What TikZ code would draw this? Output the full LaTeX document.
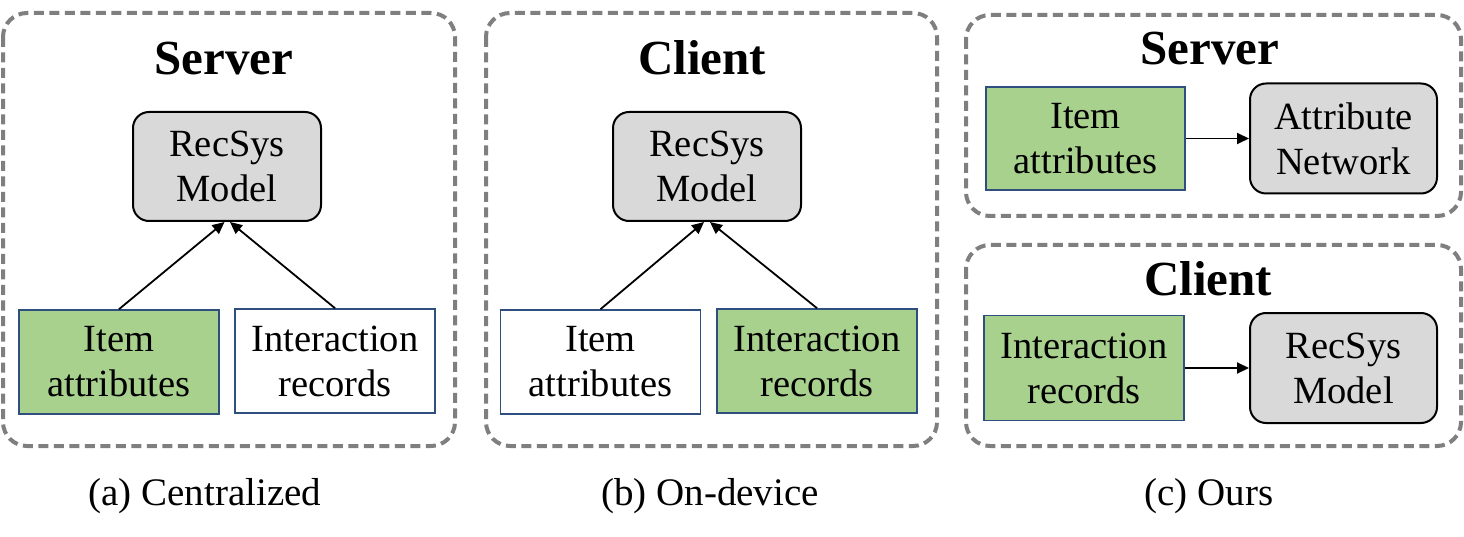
\documentclass[tikz,border=0pt]{standalone}
\usepackage{fontspec}
\setmainfont{Liberation Serif}
\usetikzlibrary{arrows.meta}
\definecolor{greenf}{HTML}{A9D18E}
\definecolor{grayf}{HTML}{D9D9D9}
\definecolor{dashg}{HTML}{7F7F7F}
\definecolor{boxb}{HTML}{2F4F7F}
\tikzset{
  panel/.style={draw=dashg,line width=4pt,dash pattern=on 10pt off 5.5pt,rounded corners=24pt},
  sqbox/.style={draw=boxb,line width=1.6pt,align=center,inner sep=0pt,font=\fontsize{38.5}{45}\selectfont},
  rbox/.style={draw=black,line width=2pt,fill=grayf,rounded corners=16pt,align=center,inner sep=0pt,font=\fontsize{38.5}{45}\selectfont},
  ttl/.style={anchor=base,inner sep=0pt,font=\fontsize{49}{55}\selectfont\bfseries},
  captxt/.style={anchor=base,inner sep=0pt,font=\fontsize{39}{45}\selectfont},
  arr/.style={line width=1.8pt,-{Triangle[length=12pt,width=11pt]}}
}
\begin{document}
\begin{tikzpicture}[x=1pt,y=-1pt]
\useasboundingbox (0,0) rectangle (1464,537);
% panels
\draw[panel] (3,13) rectangle (455,446);
\draw[panel] (486,13) rectangle (937,446);
\draw[panel] (966,15) rectangle (1461,216);
\draw[panel] (966,245) rectangle (1461,446);
% (a)
\node[ttl] (ta) at (224,75) {Server};
\node[rbox,minimum width=188pt,minimum height=109pt] (ra) at (227,166.5) {RecSys\\Model};
\node[sqbox,fill=greenf,minimum width=200pt,minimum height=104pt] (ia) at (119,362) {Item\\attributes};
\node[sqbox,fill=white,minimum width=200pt,minimum height=104pt] (xa) at (335,361) {Interaction\\records};
\draw[arr] (ia.north) -- ([xshift=-2.5pt]ra.south);
\draw[arr] (xa.north) -- ([xshift=3pt]ra.south);
\node[captxt] (ca) at (205,505) {(a) Centralized};
% (b)
\node[ttl] (tb) at (702,75) {Client};
\node[rbox,minimum width=188pt,minimum height=109pt] (rb) at (707,166.5) {RecSys\\Model};
\node[sqbox,fill=white,minimum width=200pt,minimum height=104pt] (ib) at (600.5,362) {Item\\attributes};
\node[sqbox,fill=greenf,minimum width=200pt,minimum height=104pt] (xb) at (817,361) {Interaction\\records};
\draw[arr] (ib.north) -- ([xshift=-3pt]rb.south);
\draw[arr] (xb.north) -- ([xshift=3pt]rb.south);
\node[captxt] (cb) at (710,505) {(b) On-device};
% (c)
\node[ttl] (tc1) at (1210,65) {Server};
\node[sqbox,fill=greenf,minimum width=199pt,minimum height=103pt] (ic) at (1085.5,138.5) {Item\\attributes};
\node[rbox,minimum width=187pt,minimum height=110pt] (nc) at (1343.5,138.5) {Attribute\\Network};
\draw[arr] (ic.east) -- (nc.west);
\node[ttl] (tc2) at (1208,295) {Client};
\node[sqbox,fill=greenf,minimum width=200pt,minimum height=105pt] (xc) at (1084,368) {Interaction\\records};
\node[rbox,minimum width=187pt,minimum height=110pt] (rc) at (1343.5,368) {RecSys\\Model};
\draw[arr] (xc.east) -- (rc.west);
\node[captxt] (cc) at (1209,505) {(c) Ours};
\end{tikzpicture}
\end{document}
